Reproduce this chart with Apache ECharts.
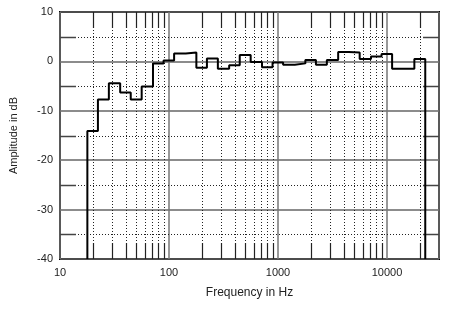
<!DOCTYPE html>
<html><head><meta charset="utf-8">
<script src="https://cdn.jsdelivr.net/npm/echarts@6/dist/echarts.min.js"></script>
<style>html,body{margin:0;padding:0;background:#fff}#c{width:450px;height:310px}</style>
</head><body><div id="c"></div>
<script>
// 1/3-octave band centre frequencies (Hz)
const bandCenters = [20,25,31.5,40,50,63,80,100,125,160,200,250,315,400,500,630,800,1000,1250,1600,2000,2500,3150,4000,5000,6300,8000,10000,12500,16000,20000];
// Amplitude (dB) per band
const levels = [-14.1,-7.7,-4.4,-6.3,-7.7,-5.1,-0.4,0.2,1.6,1.8,-1.3,0.6,-1.5,-0.8,1.3,-0.1,-1.2,-0.2,-0.7,-0.4,0.3,-0.7,0.3,1.9,1.8,0.5,1.0,1.5,-1.5,-1.5,0.5];
const xTickLabels = [10,100,1000,10000];
const yTickLabels = [-40,-30,-20,-10,0,10];
const minorFreqs = [20,30,40,50,60,70,80,90,200,300,400,500,600,700,800,900,2000,3000,4000,5000,6000,7000,8000,9000,20000];
const minorDb = [-35,-25,-15,-5,5];
const X_MIN = 10, X_MAX = 30000, Y_MIN = -40, Y_MAX = 10;
const BAND_HALF = Math.pow(10, 0.05); // half of a 1/3-octave band

const stepData = [];
const firstLow = bandCenters[0] / BAND_HALF;
stepData.push([firstLow, Y_MIN]);
bandCenters.forEach((c, i) => stepData.push([c / BAND_HALF, levels[i]]));
const lastHigh = bandCenters[bandCenters.length - 1] * BAND_HALF;
stepData.push([lastHigh, levels[levels.length - 1]]);
stepData.push([lastHigh, Y_MIN]);

const TICK = 16;
const chart = echarts.init(document.getElementById('c'));
chart.setOption({
  animation: false,
  backgroundColor: '#fff',
  grid: {left: 57, top: 12, right: 11, bottom: 51, show: true, borderColor: '#000', borderWidth: 2, backgroundColor: '#fff'},
  xAxis: {
    type: 'log', logBase: 10, min: X_MIN, max: X_MAX,
    name: 'Frequency in Hz', nameLocation: 'middle', nameGap: 28,
    nameTextStyle: {fontFamily: 'Liberation Sans', fontSize: 12, color: '#222'},
    axisLine: {show: false}, axisTick: {show: false},
    axisLabel: {fontFamily: 'Liberation Sans', fontSize: 11, color: '#222', margin: 8, showMaxLabel: false,
      formatter: v => xTickLabels.indexOf(Math.round(v)) >= 0 ? String(Math.round(v)) : ''},
    splitLine: {show: true, lineStyle: {color: '#777', width: 1.5}}
  },
  yAxis: {
    type: 'value', min: Y_MIN, max: Y_MAX, interval: 10,
    name: 'Amplitude in dB', nameLocation: 'middle', nameGap: 41,
    nameTextStyle: {fontFamily: 'Liberation Sans', fontSize: 11, color: '#222'},
    axisLine: {show: false}, axisTick: {show: false},
    axisLabel: {fontFamily: 'Liberation Sans', fontSize: 11, color: '#222', margin: 7,
      formatter: v => yTickLabels.indexOf(v) >= 0 ? String(v) : ''},
    splitLine: {show: true, lineStyle: {color: '#666', width: 1.5}}
  },
  series: [
    {
      type: 'custom', data: minorFreqs.map(f => [f]), z: 1, silent: true,
      renderItem: (params, api) => {
        const f = api.value(0);
        const b = api.coord([f, Y_MIN]), t = api.coord([f, Y_MAX]);
        const x = Math.round(b[0]) + 0.5;
        return {type: 'group', children: [
          {type: 'line', shape: {x1: x, y1: t[1], x2: x, y2: b[1]}, style: {stroke: '#222', lineWidth: 1, lineDash: [1, 2]}},
          {type: 'line', shape: {x1: x, y1: b[1], x2: x, y2: b[1] - TICK}, style: {stroke: '#222', lineWidth: 1.2}},
          {type: 'line', shape: {x1: x, y1: t[1], x2: x, y2: t[1] + TICK}, style: {stroke: '#222', lineWidth: 1.2}}
        ]};
      }
    },
    {
      type: 'custom', data: minorDb.map(d => [X_MIN, d]), z: 1, silent: true,
      renderItem: (params, api) => {
        const d = api.value(1);
        const l = api.coord([X_MIN, d]), r = api.coord([X_MAX, d]);
        const y = Math.round(l[1]) + 0.5;
        return {type: 'group', children: [
          {type: 'line', shape: {x1: l[0], y1: y, x2: r[0], y2: y}, style: {stroke: '#222', lineWidth: 1, lineDash: [1, 2]}},
          {type: 'line', shape: {x1: l[0], y1: y, x2: l[0] + TICK, y2: y}, style: {stroke: '#444', lineWidth: 1.5}},
          {type: 'line', shape: {x1: r[0], y1: y, x2: r[0] - TICK, y2: y}, style: {stroke: '#444', lineWidth: 1.5}}
        ]};
      }
    },
    {
      type: 'line', data: stepData, step: 'end', symbol: 'none', z: 5,
      lineStyle: {color: '#000', width: 2}
    }
  ]
});
</script>
</body></html>
